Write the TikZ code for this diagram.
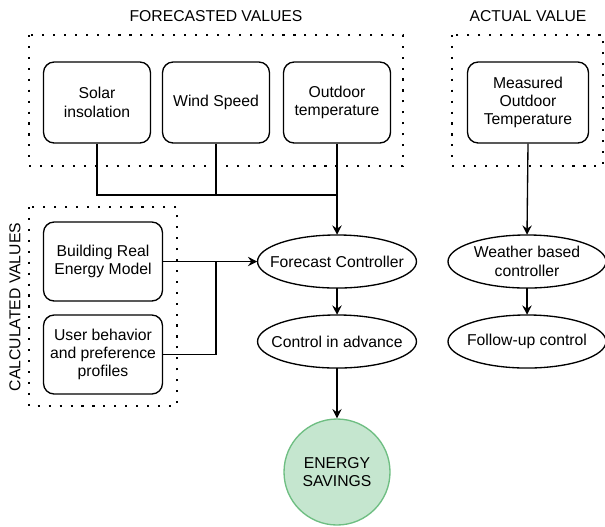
\documentclass[tikz,border=0pt]{standalone}
\usepackage{fontspec}
\setmainfont{Liberation Sans}
\usetikzlibrary{arrows.meta,shapes.geometric}
\definecolor{savefill}{RGB}{197,230,207}
\definecolor{savedraw}{RGB}{110,190,130}
\begin{document}
\begin{tikzpicture}[x=0.75pt,y=-0.75pt, font=\fontsize{11.8}{13.8}\selectfont,
  rbox/.style={draw, line width=1pt, rounded corners=8pt, align=center, inner sep=0pt},
  ell/.style={rectangle, align=center, inner sep=0pt, minimum width=119.25pt, minimum height=39.75pt},
  ellline/.style={draw, line width=1pt},
  dotbox/.style={draw, line width=1.6pt, dash pattern=on 1.6pt off 6.6pt},
  arr/.style={-{Stealth[length=7pt,width=7pt,inset=2.5pt]}, line width=1pt},
  con/.style={line width=1pt}]
\useasboundingbox (0,0) rectangle (605,526);

% titles
\node (t1) at (216,16) {FORECASTED VALUES};
\node (t2) at (528,16) {ACTUAL VALUE};
\node[rotate=90] (t3) at (15,307) {CALCULATED VALUES};

% dotted groups
\draw[dotbox] (29,35) rectangle (403,166);
\draw[dotbox] (452,35) rectangle (603,166);
\draw[dotbox] (29,207) rectangle (177,406);

% input boxes
\node[rbox, minimum width=80.25pt, minimum height=60.75pt] (sol) at (97,102.5) {Solar\\insolation};
\node[rbox, minimum width=80.25pt, minimum height=60.75pt] (wind) at (216,102.5) {Wind Speed};
\node[rbox, minimum width=80.25pt, minimum height=60.75pt] (out) at (337,102.5) {Outdoor\\temperature};
\node[rbox, minimum width=90.75pt, minimum height=60.75pt] (meas) at (528,102.5) {Measured\\Outdoor\\Temperature};
\node[rbox, minimum width=89.25pt, minimum height=59.25pt] (bld) at (103,261.5) {Building Real\\Energy Model};
\node[rbox, minimum width=89.25pt, minimum height=59.25pt] (usr) at (103,354.5) {User behavior\\and preference\\profiles};

% controllers (ellipse outlines drawn around the named nodes)
\node[ell] (fc) at (337,261.5) {Forecast Controller};
\node[ell] (cia) at (337,341.5) {Control in advance};
\node[ell, minimum width=118.5pt] (wbc) at (527,261.5) {Weather based\\controller};
\node[ell, minimum width=118.5pt] (fuc) at (527,341.5) {Follow-up control};
\draw[ellline] (fc.center) ellipse [x radius=59.6pt, y radius=19.9pt];
\draw[ellline] (cia.center) ellipse [x radius=59.6pt, y radius=19.9pt];
\draw[ellline] (wbc.center) ellipse [x radius=59.25pt, y radius=19.9pt];
\draw[ellline] (fuc.center) ellipse [x radius=59.25pt, y radius=19.9pt];

% result
\node[circle, draw=savedraw, fill=savefill, line width=1pt, minimum size=79.5pt, inner sep=0pt, align=center] (es) at (337,472) {ENERGY\\SAVINGS};

% connectors
\coordinate (join) at (337,195);
\coordinate (mid) at (216,261.5);
\draw[con] (sol.south) |- (join);
\draw[con] (wind.south) -- (wind.south |- join);
\draw[arr] (out.south) -- (fc.north);
\draw[arr] (bld.east) -- (fc.west);
\draw[con] (usr.east) -| (mid);
\draw[arr] (fc.south) -- (cia.north);
\draw[arr] (cia.south) -- (es.north);
\draw[arr] (meas.south) -- (wbc.north);
\draw[arr] (wbc.south) -- (fuc.north);
\end{tikzpicture}
\end{document}
